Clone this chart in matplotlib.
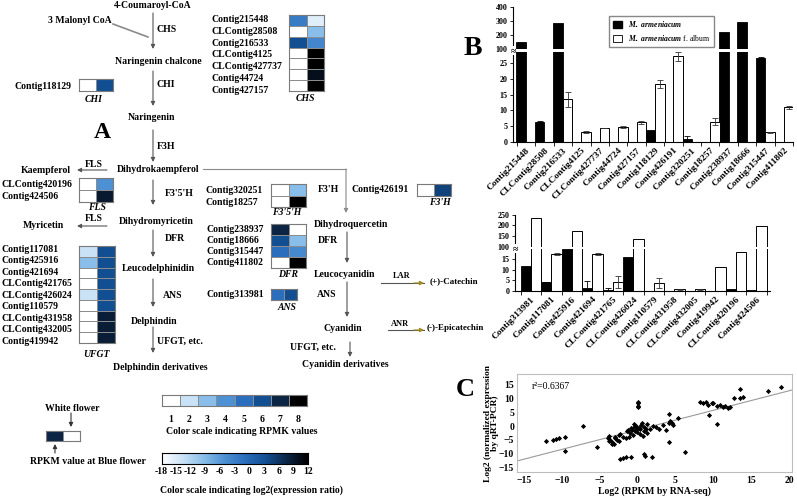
import numpy as np
import matplotlib.pyplot as plt
from matplotlib.colors import LinearSegmentedColormap
from matplotlib.patches import Patch

W, H = 797, 498
plt.rcParams['font.family'] = ['Liberation Serif', 'DejaVu Serif']
plt.rcParams['font.weight'] = 'bold'
plt.rcParams['axes.labelweight'] = 'bold'
plt.rcParams['mathtext.fontset'] = 'custom'
plt.rcParams['mathtext.it'] = 'Liberation Serif:italic'

# RPKM colour levels 1..8
level_colors = ['#ffffff', '#c9e2f6', '#88bee9', '#4d90d3', '#2b6ebd', '#124f92', '#0c2545', '#000000']
rpkm_cmap = LinearSegmentedColormap.from_list('rpkm', level_colors)

# ---- panel A heatmaps: [blue flower, white flower] RPKM level
chs_genes = ['Contig215448', 'CLContig28508', 'Contig216533', 'CLContig4125',
             'CLContig427737', 'Contig44724', 'Contig427157']
chs_vals = [[4.6, 1.6], [1, 3], [6, 4.3], [1, 8], [1, 8], [1, 7.6], [1, 8]]
chi_genes = ['Contig118129']
chi_vals = [[1, 6]]
fls_genes = ['CLContig420196', 'Contig424506']
fls_vals = [[1, 4], [1, 7.3]]
f35h_genes = ['Contig320251', 'Contig18257']
f35h_vals = [[1, 3], [1, 8]]
dfr_genes = ['Contig238937', 'Contig18666', 'Contig315447', 'Contig411802']
dfr_vals = [[7, 1], [6, 3], [5, 4.2], [1, 8]]
ans_genes = ['Contig313981']
ans_vals = [[5, 6]]
f3h_genes = ['Contig426191']
f3h_vals = [[1, 6.3]]
ufgt_genes = ['Contig117081', 'Contig425916', 'Contig421694', 'CLContig421765',
              'CLContig426024', 'Contig110579', 'CLContig431958', 'CLContig432005',
              'Contig419942']
ufgt_vals = [[2, 6], [3, 6], [1, 6], [1, 6], [2, 6], [1, 6], [1, 7.2], [1, 7.2], [1, 7.2]]
example_vals = [[7, 1]]
scale_levels = [1, 2, 3, 4, 5, 6, 7, 8]
ratio_ticks = [-18, -15, -12, -9, -6, -3, 0, 3, 6, 9, 12]

# ---- panel B, upper chart
b1_genes = ['Contig215448', 'CLContig28508', 'Contig216533', 'CLContig4125', 'CLContig427737',
            'Contig44724', 'Contig427157', 'Contig118129', 'Contig426191', 'Contig320251',
            'Contig18257', 'Contig238937', 'Contig18666', 'Contig315447', 'Contig411802']
b1_blue = [152, 6.4, 283, 0, 0, 0, 0, 3.7, 0, 0.9, 0, 224, 295, 26.7, 0]
b1_blue_err = [0, 0.2, 0, 0, 0, 0, 0, 0, 0, 0.9, 0, 0, 0, 0.2, 0]
b1_white = [0, 0, 13.5, 3.2, 4.4, 4.7, 6.2, 18.3, 27.1, 0, 6.4, 0, 0, 3.1, 11.0]
b1_white_err = [0, 0, 2.4, 0.3, 0.1, 0.25, 0.5, 1.2, 1.5, 0, 1.1, 0, 0, 0.2, 0.5]
b1_ticks = [0, 5, 10, 15, 20, 25, 100, 200, 300, 400]

# ---- panel B, lower chart
b2_genes = ['Contig313981', 'Contig117081', 'Contig425916', 'Contig421694', 'CLContig421765',
            'CLContig426024', 'Contig110579', 'CLContig431958', 'CLContig432005', 'Contig419942',
            'CLContig420196', 'Contig424506']
b2_blue = [11.8, 4.2, 19.4, 1.5, 0.3, 16.0, 0, 0, 0, 0, 0.9, 0.3]
b2_blue_err = [0, 0.2, 0, 3.2, 1.2, 0, 0, 0, 0, 0, 0, 0]
b2_white = [235, 17.3, 175, 17.3, 4.4, 137, 3.6, 0.8, 0.8, 11.3, 18.0, 198]
b2_white_err = [0, 0.6, 0, 0.6, 2.8, 0, 2.3, 0.3, 0.3, 0, 0, 0]
b2_ticks = [0, 5, 10, 15, 100, 150, 200, 250]

# ---- panel C scatter
rna_log2 = [-12.1, -11.1, -10.8, -10.4, -9.6, -9.6, -7.2, -5.3,
            -3.9, -3.6, -3.3, -3.0, -2.7, -2.4, -3.4, -2.9, -3.7, -2.5, -3.1, -3.8,
            -2.3, -1.9, -1.5, -0.9,
            -1.4, -1.0, -0.7, -0.4, -0.2, -0.1, 0.2, 0.5, 0.8, 1.1, 1.2, 1.3, 0.7, 0.3,
            -0.6, -1.1, -1.5, -1.9, -2.3, -0.3, 0.0, 0.4, -0.8, 0.9, -1.2, 1.6, -0.5, 0.6,
            0.1, 0.1, 0.1, 0.1,
            0.8, 1.0, 1.9,
            2.0, 2.5, 2.9, 3.4, 3.8, 4.1,
            4.1, 4.3, 4.5, 4.7, 4.1, 5.4, 6.3,
            8.3, 8.6, 9.0, 9.3, 9.8, 10.0, 10.5, 10.9, 11.3, 11.6, 11.9, 12.2,
            9.4, 10.5, 12.7, 13.5, 13.9, 13.5, 17.2, 19.0]
qpcr_log2 = [-5.5, -5.1, -4.7, -4.4, -3.9, -9.1, 0.0, -7.5,
             -4.4, -5.1, -5.8, -3.9, -5.1, -5.6, -6.4, -4.2, -3.7, -3.3, -6.6, -5.4,
             -12.1, -11.6, -11.2, -11.4,
             -1.9, -2.5, -1.3, -0.5, 0.0, -1.2, -0.6, 0.4, -1.9, -1.2, 0.7, -2.4, -3.5, -2.8,
             -3.3, -3.9, -4.3, -4.0, -3.0, -1.8, -2.2, -0.9, -0.6, -0.3, -1.4, -0.9, 0.8, 1.2,
             8.8, 8.2, 7.3, 6.8,
             -10.2, -10.9, -11.2,
             0.0, -0.5, -0.9, 0.3, -1.5, 1.0,
             4.4, 2.0, 1.1, 0.4, -5.7, 2.8, -9.3,
             8.8, 8.2, 8.6, 7.7, 8.3, 8.4, 7.2, 7.8, 6.9, 7.3, 6.6, 6.8,
             4.0, 0.6, 10.0, 10.3, 10.4, 13.3, 12.7, 14.3]
fit_slope, fit_intercept = 0.71, -1.4

fig = plt.figure(figsize=(W / 100, H / 100), dpi=100)
ax0 = fig.add_axes([0, 0, 1, 1])
ax0.set_xlim(0, W)
ax0.set_ylim(H, 0)
ax0.axis('off')


def px_axes(x0, y0, x1, y1):
    return fig.add_axes([x0 / W, 1 - y1 / H, (x1 - x0) / W, (y1 - y0) / H])


def heat(box, vals, cmap=rpkm_cmap, vmin=1, vmax=8, edge='#8c8c8c'):
    ax = px_axes(*box)
    ax.pcolormesh(np.array(vals, float), cmap=cmap, vmin=vmin, vmax=vmax,
                  edgecolors=edge, linewidth=0.5)
    ax.set_ylim(len(vals), 0)
    ax.set_xticks([])
    ax.set_yticks([])
    for s in ax.spines.values():
        s.set_color('#7a7a7a')
        s.set_linewidth(0.8)
    return ax


def gene_block(genes, vals, box, lx, ly0, step, title, tx, ty):
    heat(box, vals)
    for i, g in enumerate(genes):
        ax0.text(lx, ly0 + i * step, g, fontsize=7, va='center', ha='left')
    ax0.text(tx, ty, title, fontsize=7, style='italic', ha='center', va='center')


def arrow(x0, y0, x1, y1, color='#555555'):
    ax0.annotate('', xy=(x1, y1), xytext=(x0, y0),
                 arrowprops=dict(arrowstyle='-|>', color=color, lw=0.8, mutation_scale=6,
                                 shrinkA=0, shrinkB=0))


def txt(x, y, s, size=7, ha='center', **kw):
    ax0.text(x, y, s, fontsize=size, ha=ha, va='center', **kw)


# ---- panel A pathway
txt(153, 5, '4-Coumaroyl-CoA')
txt(80, 20, '3 Malonyl CoA')
ax0.plot([113, 148], [24, 37], color='#8a8a8a', lw=1.2)
arrow(153, 13, 153, 49)
txt(157, 29, 'CHS', ha='left')
txt(158, 61, 'Naringenin chalcone')
arrow(153, 71, 153, 106)
txt(157, 84, 'CHI', ha='left')
txt(152, 117, 'Naringenin')
txt(102, 132, 'A', size=17)
arrow(153, 130, 153, 162)
txt(157, 146, 'F3H', ha='left')
txt(158, 169, 'Dihydrokaempferol')
arrow(107, 170, 77, 170)
txt(94, 164, 'FLS')
txt(46, 170, 'Kaempferol')
ax0.plot([203, 346], [169, 169], color='#8a8a8a', lw=0.8)
arrow(346, 169, 346, 213, color='#8a8a8a')
arrow(153, 180, 153, 205)
txt(165, 193, "F3'5'H", ha='left')
txt(156, 221, 'Dihydromyricetin')
arrow(107, 226, 77, 226)
txt(94, 218, 'FLS')
txt(43, 225, 'Myricetin')
arrow(153, 230, 153, 257)
txt(165, 238, 'DFR', ha='left')
txt(158, 268, 'Leucodelphinidin')
arrow(153, 279, 153, 307)
txt(163, 295, 'ANS', ha='left')
txt(154, 321, 'Delphindin')
arrow(153, 327, 153, 353)
txt(157, 341, 'UFGT, etc.', ha='left')
txt(160, 367, 'Delphindin derivatives')

txt(351, 224, 'Dihydroquercetin')
txt(328, 240, 'DFR')
arrow(347, 232, 347, 263)
txt(345, 274, 'Leucocyanidin')
txt(327, 294, 'ANS')
arrow(347, 282, 347, 317)
txt(343, 328, 'Cyanidin')
txt(313, 347, 'UFGT, etc.')
arrow(350, 342, 350, 357)
txt(345, 364, 'Cyanidin derivatives')
txt(328, 189, "F3'H")
ax0.plot([381, 424], [283, 283], color='#555555', lw=0.8)
arrow(414, 283, 424, 283, color='#a08c20')
txt(402, 276, 'LAR', size=6)
txt(454, 281, '(+)-Catechin', size=6.5)
ax0.plot([388, 424], [330, 330], color='#555555', lw=0.8)
arrow(414, 330, 424, 330, color='#a08c20')
txt(400, 324, 'ANR', size=6)
txt(455, 328, '(-)-Epicatechin', size=6.5)

gene_block(chs_genes, chs_vals, (289, 15, 324, 91), 212, 19.5, 11.8, 'CHS', 305, 98)
gene_block(chi_genes, chi_vals, (79, 79, 113, 91), 15, 86, 0, 'CHI', 94, 99)
gene_block(fls_genes, fls_vals, (79, 178, 113, 202), 1, 184, 12.5, 'FLS', 97, 207)
gene_block(f35h_genes, f35h_vals, (271, 184, 306, 207), 206, 190, 12, "F3'5'H", 287, 212)
gene_block(dfr_genes, dfr_vals, (271, 224, 306, 268), 207, 229, 11.3, 'DFR', 288, 274)
gene_block(ans_genes, ans_vals, (271, 289, 297, 300), 207, 294, 0, 'ANS', 287, 307)
gene_block(f3h_genes, f3h_vals, (417, 184, 451, 196), 352, 189, 0, "F3'H", 440, 202)
gene_block(ufgt_genes, ufgt_vals, (79, 246, 115, 343), 1, 249, 11.5, 'UFGT', 96, 354)

# legend for panel A
txt(72, 408, 'White flower')
arrow(71, 413, 71, 427, color='#333333')
heat((46, 431, 80, 441), example_vals)
arrow(55, 453, 55, 444, color='#333333')
txt(30, 461, 'RPKM value at Blue flower', ha='left')

ax_l = heat((162, 395, 307, 406), [scale_levels])
for i, v in enumerate(scale_levels):
    ax0.text(162 + (i + 0.5) * (307 - 162) / 8, 419, str(v), fontsize=7, ha='center', va='center')
txt(242, 431, 'Color scale indicating RPMK values')

ax_g = px_axes(162, 453, 308, 464)
ax_g.imshow(np.linspace(ratio_ticks[0], ratio_ticks[-1], 256)[None, :], cmap=rpkm_cmap,
            aspect='auto', extent=(ratio_ticks[0], ratio_ticks[-1], 0, 1))
ax_g.set_xticks([])
ax_g.set_yticks([])
for s in ax_g.spines.values():
    s.set_linewidth(0.8)
for i, t in enumerate(ratio_ticks):
    ax0.text(161 + i * (308 - 161) / 10, 471, str(t), fontsize=7, ha='center', va='center')
txt(251, 490, 'Color scale indicating log2(expression ratio)')


# ---- panel B
def broken_scale(ax, lo, gap, k, hi=100):
    def fwd(v):
        v = np.asarray(v, float)
        return np.where(v <= lo, v, np.where(v <= hi, lo + (v - lo) * gap / (hi - lo),
                                             lo + gap + (v - hi) * k))

    def inv(u):
        u = np.asarray(u, float)
        return np.where(u <= lo, u, np.where(u <= lo + gap, lo + (u - lo) * (hi - lo) / gap,
                                             hi + (u - lo - gap) / k))
    ax.set_yscale('function', functions=(fwd, inv))


def bar_chart(ax, genes, blue, blue_err, white, white_err, ticks, lo, gap, k, ymax, xlim, w):
    broken_scale(ax, lo, gap, k)
    x = np.arange(len(genes))
    ax.bar(x - w / 2, blue, w, color='black', edgecolor='black', lw=0.6)
    ax.bar(x + w / 2, white, w, color='white', edgecolor='black', lw=0.7)
    be = np.array(blue_err)
    we = np.array(white_err)
    m = be > 0
    ax.errorbar(x[m] - w / 2, np.array(blue)[m], yerr=be[m], fmt='none', ecolor='black',
                capsize=2, lw=0.6, capthick=0.6)
    m = we > 0
    ax.errorbar(x[m] + w / 2, np.array(white)[m], yerr=we[m], fmt='none', ecolor='#333333',
                capsize=2, lw=0.6, capthick=0.6)
    ax.axhspan(lo, 100, color='white', zorder=5, lw=0)
    ax.set_ylim(0, ymax)
    ax.set_xlim(*xlim)
    ax.set_yticks(ticks)
    ax.set_yticklabels([str(t) for t in ticks], fontsize=5.8)
    ax.set_xticks(x)
    ax.set_xticklabels(genes, rotation=45, ha='right', rotation_mode='anchor', fontsize=6.8)
    ax.set_xticks(np.arange(len(genes) + 1) - 0.5, minor=True)
    ax.tick_params(axis='x', which='major', length=0, pad=3)
    ax.tick_params(axis='x', which='minor', length=3, width=0.6)
    ax.tick_params(axis='y', length=2.5, width=0.6, pad=1.5)
    for s in ('top', 'right'):
        ax.spines[s].set_visible(False)
    for s in ('left', 'bottom'):
        ax.spines[s].set_linewidth(0.8)
    ax.text(0, (lo + 100) / 2, '\u2248', transform=ax.get_yaxis_transform(), ha='center',
            va='center', fontsize=7, zorder=6,
            bbox=dict(facecolor='white', edgecolor='none', pad=0))


ax_b1 = px_axes(513, 7, 793, 142)
bar_chart(ax_b1, b1_genes, b1_blue, b1_blue_err, b1_white, b1_white_err, b1_ticks,
          28.4, 1.0, 0.0443, 400, (-0.71, 14.5), 0.52)
ax_b1.legend(handles=[Patch(facecolor='black', edgecolor='black'),
                      Patch(facecolor='white', edgecolor='black', lw=0.6)],
             labels=[r'$\mathit{M.\ armeniacum}$', r'$\mathit{M.\ armeniacum}$ f. album'],
             loc='upper left', bbox_to_anchor=(0.33, 0.965), fontsize=5.5, fancybox=False,
             edgecolor='#888888', framealpha=1, handlelength=1.2, handleheight=1.1,
             borderpad=0.5, labelspacing=0.5, prop={'weight': 'normal', 'size': 5.5})
txt(473, 48, 'B', size=20)

ax_b2 = px_axes(515, 214.5, 770, 291)
bar_chart(ax_b2, b2_genes, b2_blue, b2_blue_err, b2_white, b2_white_err, b2_ticks,
          19.5, 0.8, 0.102, 250, (-0.78, 11.66), 0.5)

# ---- panel C
ax_c = px_axes(517, 374, 792, 472)
xs = np.array(rna_log2)
ax_c.scatter(xs, qpcr_log2, marker='D', s=7, color='black', lw=0, zorder=3)
lx = np.array([-15.9, 20.4])
ax_c.plot(lx, fit_slope * lx + fit_intercept, color='#9a9a9a', lw=0.8)
ax_c.set_xlim(-15.9, 20.4)
ax_c.set_ylim(-16.7, 18.9)
ax_c.set_xticks([-15, -10, -5, 0, 5, 10, 15, 20])
ax_c.set_yticks([-15, -10, -5, 0, 5, 10, 15])
ax_c.tick_params(axis='x', length=0, labelsize=7, pad=3)
ax_c.tick_params(axis='y', length=0, labelsize=7, pad=2)
for s in ax_c.spines.values():
    s.set_color('#bdbdbd')
    s.set_linewidth(0.8)
ax_c.text(0.055, 0.87, 'r\u00b2=0.6367', transform=ax_c.transAxes, fontsize=7,
          fontweight='normal', ha='left', va='center')
ax_c.set_xlabel('Log2 (RPKM by RNA-seq)', fontsize=7, labelpad=1)
ax_c.set_ylabel('Log2 (normalized expression\nby qRT-PCR)', fontsize=6.8, labelpad=0,
                linespacing=0.9)
txt(465, 389, 'C', size=19)

fig.savefig('out.png', dpi=100)
